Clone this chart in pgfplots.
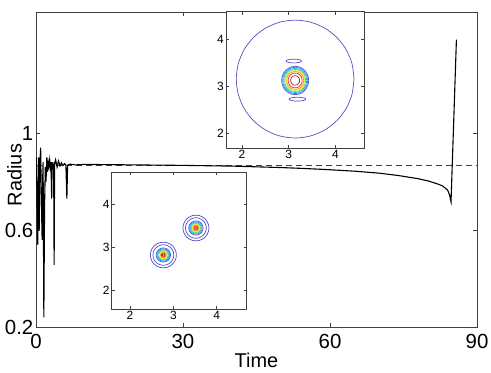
\documentclass[border=0pt]{standalone}
\usepackage{pgfplots}
\usepackage{pgfplotstable}
\pgfplotsset{compat=1.18}
\usepackage{fontspec}
\setmainfont{Liberation Sans}

\definecolor{c1}{RGB}{80,80,200}
\definecolor{c2}{RGB}{70,130,255}
\definecolor{c3}{RGB}{0,200,235}
\definecolor{c4}{RGB}{100,220,90}
\definecolor{c5}{RGB}{245,230,40}
\definecolor{c6}{RGB}{255,150,0}
\definecolor{c7}{RGB}{240,40,30}
\definecolor{c8}{RGB}{150,40,40}

\pgfplotstableread{
c s
1 0
0.9659 0.2588
0.8660 0.5
0.7071 0.7071
0.5 0.8660
0.2588 0.9659
0 1
-0.2588 0.9659
-0.5 0.8660
-0.7071 0.7071
-0.8660 0.5
-0.9659 0.2588
-1 0
-0.9659 -0.2588
-0.8660 -0.5
-0.7071 -0.7071
-0.5 -0.8660
-0.2588 -0.9659
0 -1
0.2588 -0.9659
0.5 -0.8660
0.7071 -0.7071
0.8660 -0.5
0.9659 -0.2588
1 0
}\unitcircle

\pgfplotstableread{
t r
0.00 0.86
0.10 0.90
0.25 0.62
0.35 0.54
0.45 0.78
0.55 0.90
0.65 0.60
0.80 0.88
0.95 0.94
1.10 0.72
1.25 0.56
1.35 0.80
1.45 0.88
1.60 0.24
1.75 0.70
1.90 0.86
2.05 0.80
2.20 0.90
2.35 0.84
2.50 0.88
2.65 0.86
2.80 0.89
2.95 0.86
3.05 0.88
3.20 0.73
3.30 0.88
3.45 0.86
3.60 0.87
3.70 0.456
3.80 0.87
4.00 0.89
4.30 0.86
4.60 0.885
4.90 0.865
5.20 0.878
5.50 0.866
5.80 0.874
6.10 0.868
6.30 0.73
6.45 0.868
7.0 0.872
8.0 0.869
10 0.871
15 0.870
20 0.869
30 0.867
40 0.864
50 0.858
55 0.854
60 0.849
65 0.843
70 0.835
74 0.825
78 0.812
80 0.803
82 0.790
83 0.782
84 0.765
84.4 0.745
84.7 0.717
85.8 1.386
}\radiusdata

\newcommand{\ring}[5]{\addplot[#5, line width=0.7bp, smooth] table[x expr={#1+#3*\thisrow{c}}, y expr={#2+#4*\thisrow{s}}]{\unitcircle};}

\begin{document}
\begin{tikzpicture}
\begin{axis}[name=main, at={(0,0)}, anchor=south west,
  scale only axis, width=441bp, height=315bp,
  xmin=0, xmax=90, ymin=0.2, ymax=1.5,
  xtick={0,30,60,90}, ytick={0.2,0.6,1},
  tick align=inside, major tick length=4bp,
  axis line style={black!75, line width=0.7bp}, tick style={black!75, line width=0.7bp},
  /pgf/number format/assume math mode=true,
  ticklabel style={font=\fontsize{20.5}{22}\selectfont},
  yticklabel style={inner sep=1bp, xshift=-1.5bp},
  xticklabel style={inner sep=1bp, yshift=-6.5bp},
  xlabel={Time}, ylabel={Radius},
  every axis x label/.style={at={(axis description cs:0.5,0)}, anchor=base, yshift=-40.5bp, font=\fontsize{20}{22}\selectfont},
  every axis y label/.style={at={(axis description cs:0,0.4825)}, rotate=90, anchor=center, yshift=21.5bp, font=\fontsize{20}{22}\selectfont},
]
\addplot[black!75, line width=0.9bp, dash pattern=on 6bp off 4bp] coordinates {(0,0.866) (90,0.866)};
\addplot[black, line width=1.1bp] table[x=t, y=r]{\radiusdata};
\end{axis}

% upper inset
\begin{axis}[at={(190bp,178.7bp)}, anchor=south west,
  scale only axis, width=138.3bp, height=136.6bp,
  xmin=1.66, xmax=4.62, ymin=1.67, ymax=4.59,
  xtick={2,3,4}, ytick={2,3,4},
  tick align=inside, major tick length=3bp,
  axis line style={black!75, line width=0.6bp}, tick style={black!75, line width=0.6bp},
  axis background/.style={fill=white},
  /pgf/number format/assume math mode=true,
  ticklabel style={font=\fontsize{12}{13}\selectfont, inner sep=2bp},
]
\ring{3.14}{3.15}{1.26}{1.26}{c1}
\ring{3.11}{3.535}{0.165}{0.04}{c1}
\ring{3.19}{2.72}{0.18}{0.04}{c1}
\ring{3.14}{3.12}{0.289}{0.303}{c1}
\ring{3.14}{3.12}{0.268}{0.281}{c2}
\ring{3.14}{3.12}{0.246}{0.258}{c3}
\ring{3.14}{3.12}{0.225}{0.236}{c4}
\ring{3.14}{3.12}{0.203}{0.213}{c5}
\ring{3.14}{3.12}{0.182}{0.191}{c6}
\ring{3.14}{3.12}{0.150}{0.158}{c7}
\ring{3.14}{3.12}{0.096}{0.101}{c8}
\end{axis}

% lower inset
\begin{axis}[at={(75.7bp,18bp)}, anchor=south west,
  scale only axis, width=135bp, height=136.7bp,
  xmin=1.58, xmax=4.69, ymin=1.56, ymax=4.75,
  xtick={2,3,4}, ytick={2,3,4},
  tick align=inside, major tick length=3bp,
  axis line style={black!75, line width=0.6bp}, tick style={black!75, line width=0.6bp},
  axis background/.style={fill=white},
  /pgf/number format/assume math mode=true,
  ticklabel style={font=\fontsize{12}{13}\selectfont, inner sep=2bp},
]
\ring{2.77}{2.82}{0.30}{0.30}{c1}
\ring{2.77}{2.82}{0.24}{0.24}{c1}
\ring{2.77}{2.82}{0.165}{0.165}{c1}
\ring{2.77}{2.82}{0.145}{0.145}{c2}
\ring{2.77}{2.82}{0.125}{0.125}{c3}
\ring{2.77}{2.82}{0.105}{0.105}{c4}
\ring{2.77}{2.82}{0.085}{0.085}{c5}
\ring{2.77}{2.82}{0.065}{0.065}{c6}
\ring{2.77}{2.82}{0.045}{0.045}{c7}
\ring{2.77}{2.82}{0.025}{0.025}{c8}
\ring{3.52}{3.45}{0.30}{0.30}{c1}
\ring{3.52}{3.45}{0.24}{0.24}{c1}
\ring{3.52}{3.45}{0.165}{0.165}{c1}
\ring{3.52}{3.45}{0.145}{0.145}{c2}
\ring{3.52}{3.45}{0.125}{0.125}{c3}
\ring{3.52}{3.45}{0.105}{0.105}{c4}
\ring{3.52}{3.45}{0.085}{0.085}{c5}
\ring{3.52}{3.45}{0.065}{0.065}{c6}
\ring{3.52}{3.45}{0.045}{0.045}{c7}
\ring{3.52}{3.45}{0.025}{0.025}{c8}
\end{axis}
\pgfresetboundingbox
\useasboundingbox (-36bp,-46bp) rectangle (455bp,327bp);
\end{tikzpicture}
\end{document}
